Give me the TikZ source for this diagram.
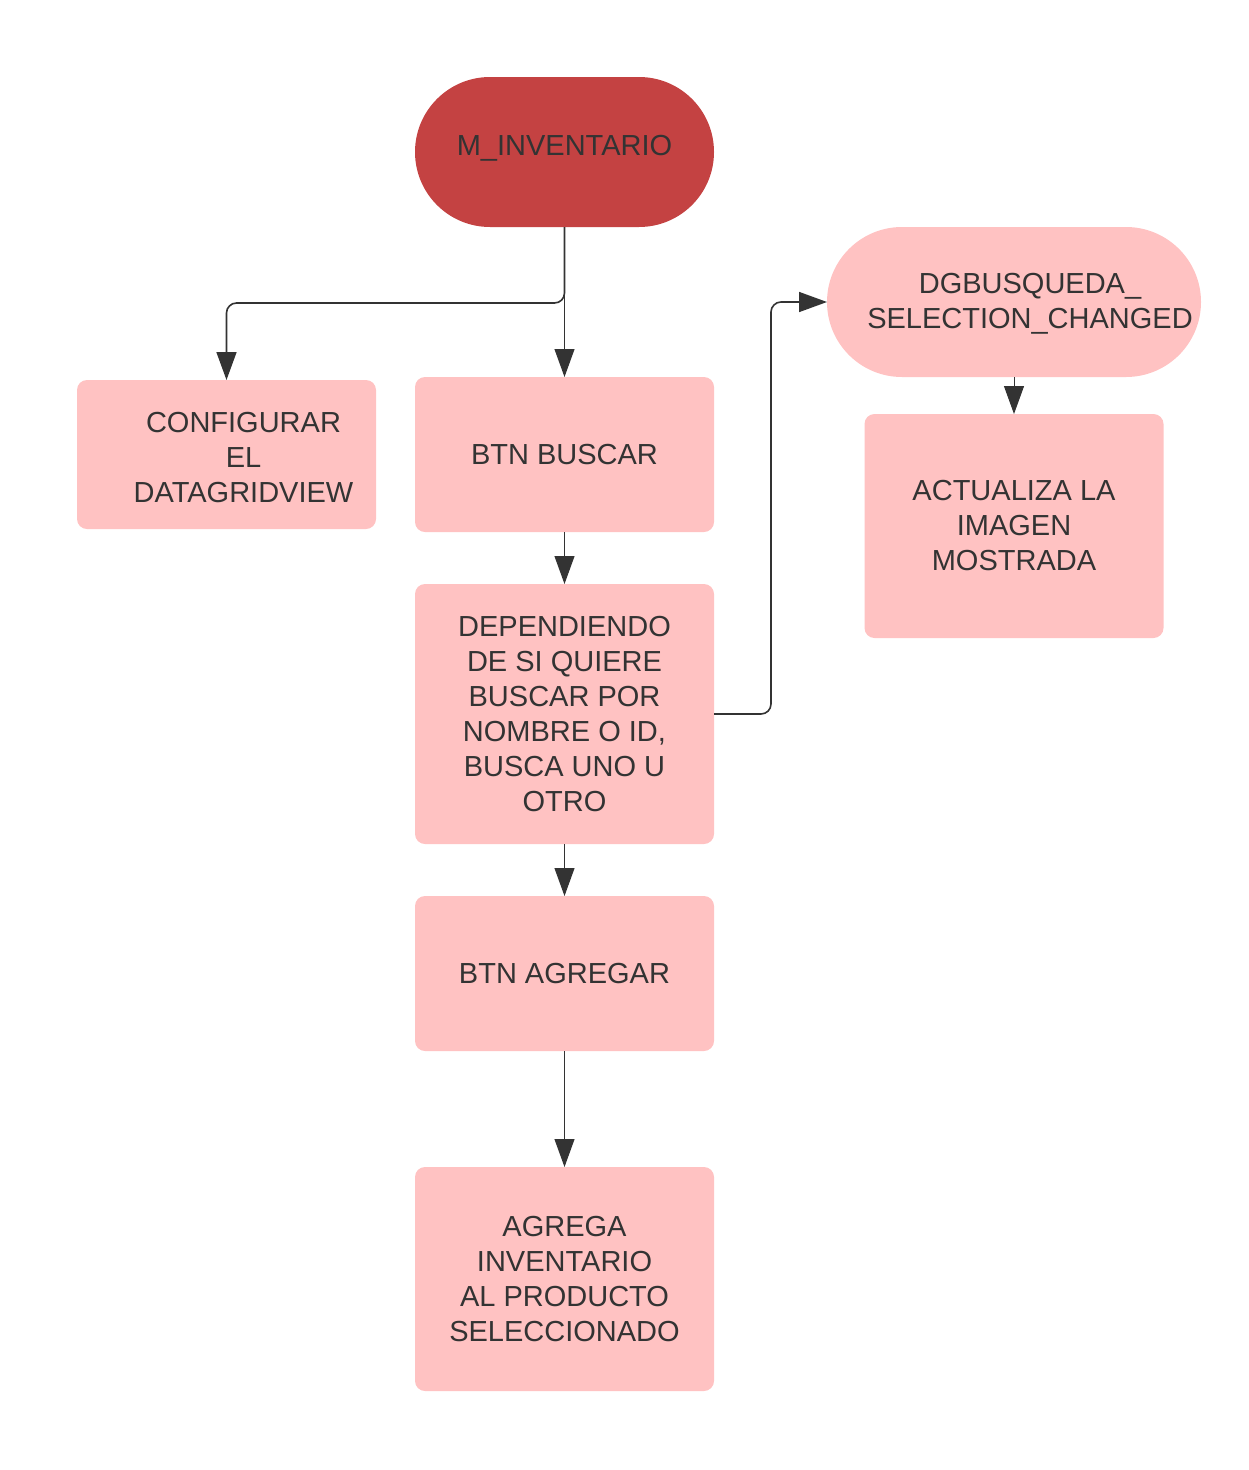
\documentclass[tikz,border=0pt]{standalone}
\usepackage{fontspec}
\setmainfont{Liberation Sans}
\usepackage{tikz}
\usetikzlibrary{arrows.meta, positioning}
\usepackage{xcolor}
\definecolor{boxpink}{HTML}{FFC2C2}
\definecolor{startred}{HTML}{C44242}
\definecolor{inkgray}{HTML}{333333}

\begin{document}
\begin{tikzpicture}[
    x=1pt, y=1pt,
    boxtext/.style={align=center, text=inkgray, font=\fontsize{29}{35}\selectfont},
    process/.style={rectangle, fill=boxpink, rounded corners=10pt, minimum width=299pt, boxtext, outer sep=0pt, inner sep=0pt},
    terminal/.style={rectangle, rounded corners=75pt, minimum height=150pt, boxtext, outer sep=0pt, inner sep=0pt},
    arrow/.style={-{Triangle[length=28pt, width=20pt]}, draw=inkgray, line width=1pt},
    elbow/.style={arrow, line width=1.6pt, rounded corners=10pt}
]
    \useasboundingbox (0,0) rectangle (1249,-1470);

    % Nodes
    \node[terminal, fill=startred, minimum width=299pt,
          label={[boxtext, yshift=4pt]center:M\_INVENTARIO}] (inv) at (564.5,-152) {};
    \node[process, minimum height=155pt, below=150pt of inv] (buscar) {BTN BUSCAR};
    \node[process, minimum height=149pt, left=39pt of buscar,
          label={[boxtext, xshift=17pt, yshift=-3pt]center:{CONFIGURAR\\EL\\DATAGRIDVIEW}}] (config) {};
    \node[process, minimum height=260pt, below=52pt of buscar] (depende) {DEPENDIENDO\\DE SI QUIERE\\BUSCAR POR\\NOMBRE O ID,\\BUSCA UNO U\\OTRO};
    \node[process, minimum height=155pt, below=52pt of depende] (agregar) {BTN AGREGAR};
    \node[process, minimum height=224pt, below=116pt of agregar] (agrega) {AGREGA\\INVENTARIO\\AL PRODUCTO\\SELECCIONADO};
    \node[terminal, fill=boxpink, minimum width=374pt, right=113pt of inv, yshift=-150pt,
          label={[boxtext, xshift=16pt, yshift=-2pt]center:{DGBUSQUEDA\_\\SELECTION\_CHANGED}}] (dgsel) {};
    \node[process, minimum height=224pt, below=37pt of dgsel] (actualiza) {ACTUALIZA LA\\IMAGEN\\MOSTRADA};

    % Arrows
    \draw[arrow] (inv) -- (buscar);
    \draw[elbow] (inv.south) -- ++(0,-76) -| (config.north);
    \draw[arrow] (buscar) -- (depende);
    \draw[arrow] (depende) -- (agregar);
    \draw[arrow] (agregar) -- (agrega);
    \draw[elbow] (depende.east) -- ++(57,0) |- (dgsel.west);
    \draw[arrow] (dgsel) -- (actualiza);
\end{tikzpicture}
\end{document}
